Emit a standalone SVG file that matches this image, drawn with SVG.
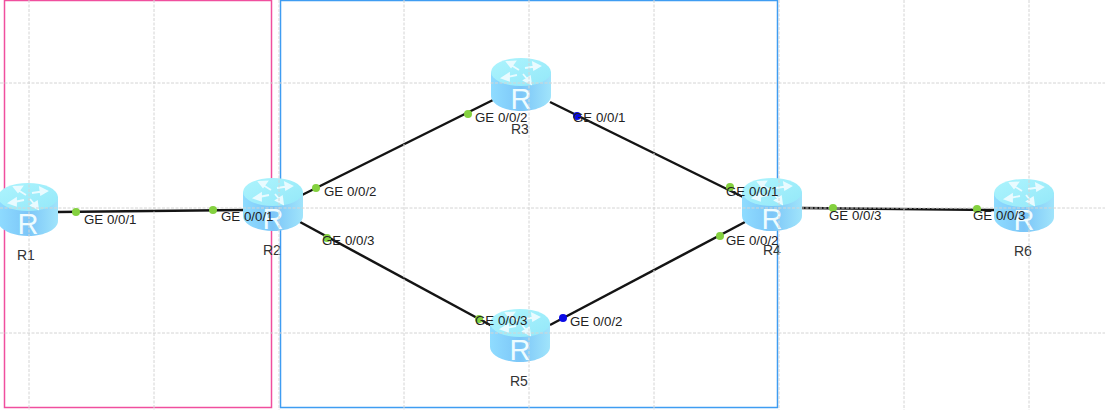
<svg xmlns="http://www.w3.org/2000/svg" xmlns:xlink="http://www.w3.org/1999/xlink" width="1105" height="410" viewBox="0 0 1105 410">
<style>
.grid{stroke:#d4d4d4;stroke-width:1;stroke-dasharray:3 1.500;fill:none}
.link{stroke:#141414;stroke-width:2.500;fill:none}
.port{fill:#84d13f}
.portb{fill:#0a0ae6}
.t{font-family:"Liberation Sans",Arial,sans-serif;font-size:13.300px;fill:#222}
.n{font-family:"Liberation Sans",Arial,sans-serif;font-size:14px;fill:#333}
.rl{font-family:"Liberation Sans",Arial,sans-serif;font-size:29px;fill:#eefcff;text-anchor:middle}
</style>
<defs>
<linearGradient id="body" x1="0" x2="1" y1="0" y2="0">
<stop offset="0" stop-color="#8fdcff"/><stop offset="0.5" stop-color="#7cc6f8"/><stop offset="1" stop-color="#a0e4fb"/>
</linearGradient>
<linearGradient id="top" x1="0" x2="1" y1="0" y2="1">
<stop offset="0" stop-color="#adf4fd"/><stop offset="1" stop-color="#94e8f9"/>
</linearGradient>
<g id="router">
<path d="M0 14V38C0 46 13 53 30 53S60 46 60 38V14Z" fill="url(#body)"/>
<ellipse cx="30" cy="14" rx="30" ry="14" fill="url(#top)"/>
<path d="M28 12L20 7M16 4L24 3.500L20 9ZM34 10L44 8.500M49 8L42 4.500L43 11.500ZM26 17L16 19M11 20L18 15.500L18 22.500ZM32 16L37 22M40 26L33 22.500L39 18.500Z" fill="#e9fbff" stroke="#e9fbff" stroke-width="1.800"/>
<text class="rl" x="30" y="51">R</text>
</g>
</defs>
<rect width="1105" height="410" fill="#fff"/>
<g id="areas">
<rect id="area-left" x="4.500" y="0.500" width="267" height="407" fill="none" stroke="#f04f9e" stroke-width="1.500"/>
<rect id="area-right" x="280.500" y="0.500" width="497" height="407" fill="none" stroke="#3f9df2" stroke-width="1.500"/>
</g>
<g id="connectors">
<path class="link" d="M57 212L243 210"/>
<path class="link" d="M302 195L493 100"/>
<path class="link" d="M300 222L492 326"/>
<path class="link" d="M550 102L743 197"/>
<path class="link" d="M550 325L745 222"/>
<path class="link" d="M802 208L994 210"/>
</g>
<g id="R1"><use xlink:href="#router" href="#router" x="-2" y="183"/><text class="n" x="17" y="260">R1</text></g>
<g id="R2"><use xlink:href="#router" href="#router" x="243" y="178"/><text class="n" x="263" y="255">R2</text></g>
<g id="R3"><use xlink:href="#router" href="#router" x="491" y="58"/><text class="n" x="511" y="134">R3</text></g>
<g id="R4"><use xlink:href="#router" href="#router" x="742" y="178"/><text class="n" x="763" y="255">R4</text></g>
<g id="R5"><use xlink:href="#router" href="#router" x="490" y="309"/><text class="n" x="510" y="386">R5</text></g>
<g id="R6"><use xlink:href="#router" href="#router" x="994" y="179"/><text class="n" x="1014" y="256">R6</text></g>
<g id="grid">
<path class="grid" d="M29 0V410M154 0V410M279 0V410M404 0V410M529 0V410M654 0V410M779 0V410M904 0V410M1029 0V410M0 83H1105M0 208H1105M0 333H1105"/>
</g>
<g id="ports">
<circle class="port" cx="76" cy="212" r="4"/>
<circle class="port" cx="213" cy="210" r="4"/>
<circle class="port" cx="316" cy="188" r="4"/>
<circle class="port" cx="327" cy="238" r="4"/>
<circle class="port" cx="468" cy="114" r="4"/>
<circle class="portb" cx="577" cy="116" r="4"/>
<circle class="port" cx="730" cy="187" r="4"/>
<circle class="port" cx="720" cy="236" r="4"/>
<circle class="port" cx="479" cy="319" r="4"/>
<circle class="portb" cx="563" cy="318" r="4"/>
<circle class="port" cx="833" cy="208" r="4"/>
<circle class="port" cx="977" cy="209" r="4"/>
</g>
<g id="labels">
<text class="t" x="84" y="224">GE 0/0/1</text>
<text class="t" x="221" y="221">GE 0/0/1</text>
<text class="t" x="324" y="196">GE 0/0/2</text>
<text class="t" x="322" y="245">GE 0/0/3</text>
<text class="t" x="475" y="122">GE 0/0/2</text>
<text class="t" x="573" y="122">GE 0/0/1</text>
<text class="t" x="726" y="196">GE 0/0/1</text>
<text class="t" x="726" y="245">GE 0/0/2</text>
<text class="t" x="475" y="325">GE 0/0/3</text>
<text class="t" x="570" y="326">GE 0/0/2</text>
<text class="t" x="829" y="220">GE 0/0/3</text>
<text class="t" x="973" y="220">GE 0/0/3</text>
</g>
</svg>
